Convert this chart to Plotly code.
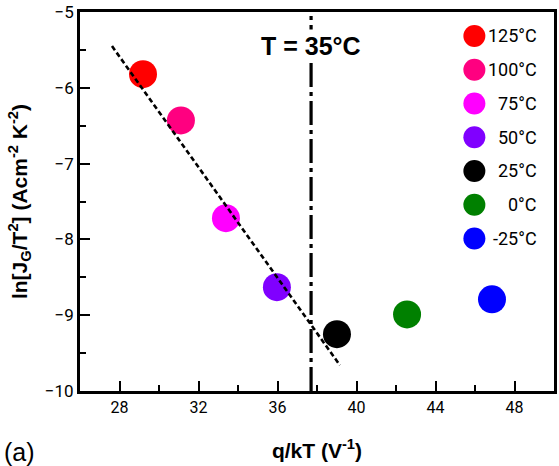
import plotly.graph_objects as go

# ---- data ----
temps = ["125°C", "100°C", "75°C", "50°C", "25°C", "0°C", "-25°C"]
colors = ["#FF0000", "#FF0080", "#FF00FF", "#8000FF", "#000000", "#008000", "#0000FF"]
q_kT = [29.19, 31.11, 33.39, 35.97, 39.01, 42.56, 46.86]
lnJ = [-5.82, -6.43, -7.72, -8.63, -9.25, -8.99, -8.79]

fit_x = [27.62, 39.16]
fit_y = [-5.45, -9.66]

T_line_x = 37.7  # q/kT at 35 °C
y_span = [-10, -5]

legend_rows = list(range(len(temps)))

NARROW = "Roboto, Liberation Sans Narrow, sans-serif"
BOLD = "Liberation Sans, Arial, sans-serif"

fig = go.Figure()

for t, c, x, y in zip(temps, colors, q_kT, lnJ):
    fig.add_trace(go.Scatter(x=[x], y=[y], mode="markers", name=t,
                             marker=dict(size=28, color=c, line=dict(width=0)),
                             showlegend=False))

fig.add_trace(go.Scatter(x=fit_x, y=fit_y, mode="lines",
                         line=dict(color="black", width=2.6, dash="5px,3px"),
                         showlegend=False))

fig.add_trace(go.Scatter(x=[T_line_x, T_line_x], y=y_span, mode="lines",
                         line=dict(color="black", width=3.2, dash="24px,5px,4px,5px"),
                         showlegend=False))

# custom legend on overlay axes
fig.add_trace(go.Scatter(x=[0.832] * len(temps), y=legend_rows, mode="markers",
                         marker=dict(size=22, color=colors, line=dict(width=0)),
                         xaxis="x2", yaxis="y2", showlegend=False))

annotations = []
for t, r in zip(temps, legend_rows):
    annotations.append(dict(x=0.968, y=r, xref="x2", yref="y2", text=t,
                            showarrow=False, xanchor="right", yanchor="middle",
                            font=dict(family=NARROW, size=18, color="black")))

annotations.append(dict(x=T_line_x, y=-5.45, xref="x", yref="y", text="<b>T = 35°C</b>",
                        showarrow=False, xanchor="center", yanchor="middle",
                        bgcolor="white", borderpad=2,
                        font=dict(family=BOLD, size=25, color="black")))

annotations.append(dict(x=-0.165, y=-0.16, xref="paper", yref="paper", text="(a)",
                        showarrow=False, xanchor="left", yanchor="middle",
                        font=dict(family=BOLD, size=25, color="black")))

fig.update_layout(
    width=559, height=466,
    margin=dict(l=80, r=2, t=11, b=75),
    paper_bgcolor="white", plot_bgcolor="white",
    showlegend=False,
    annotations=annotations,
    xaxis=dict(range=[26, 50], tickvals=[28, 32, 36, 40, 44, 48],
               ticks="inside", ticklen=10, tickwidth=1.5, tickcolor="black",
               minor=dict(ticks="inside", ticklen=6, tickwidth=1.5, tickcolor="black",
                          tickvals=[30, 34, 38, 42, 46]),
               showline=True, linecolor="black", linewidth=2.8, mirror=True,
               showgrid=False, zeroline=False,
               tickfont=dict(family=NARROW, size=16, color="black"),
               title=dict(text="<b>q/kT (V<sup>-1</sup>)</b>", standoff=28,
                          font=dict(family=BOLD, size=21, color="black"))),
    yaxis=dict(range=[-10, -5], tickvals=[-10, -9, -8, -7, -6, -5],
               ticks="inside", ticklen=10, tickwidth=1.5, tickcolor="black",
               minor=dict(ticks="inside", ticklen=6, tickwidth=1.5, tickcolor="black",
                          tickvals=[-9.5, -8.5, -7.5, -6.5, -5.5]),
               showline=True, linecolor="black", linewidth=2.8, mirror=True,
               showgrid=False, zeroline=False,
               tickfont=dict(family=NARROW, size=17, color="black"),
               title=dict(text="<b>ln[J<sub>G</sub>/T<sup>2</sup>] (Acm<sup>-2</sup> K<sup>-2</sup>)</b>",
                          standoff=12,
                          font=dict(family=BOLD, size=21, color="black"))),
    xaxis2=dict(overlaying="x", anchor="y2", range=[0, 1], visible=False),
    yaxis2=dict(overlaying="y", anchor="x2", range=[10.52, -0.709], visible=False),
)

fig.write_html("out.html")
